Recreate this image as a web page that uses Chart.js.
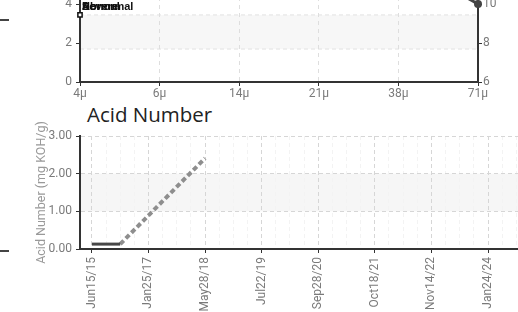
<!DOCTYPE html>
<html>
<head>
<meta charset="utf-8">
<script src="https://cdn.jsdelivr.net/npm/chart.js@4.4.0/dist/chart.umd.min.js"></script>
<style>
  html, body { margin: 0; padding: 0; background: #fff; overflow: hidden; width: 518px; height: 312px; }
  canvas { position: absolute; left: 0; }
  #particleChart { top: -60px; }
  #acidChart { top: 100px; }
  #acidTitle { position: absolute; left: 87px; top: 100px; font: 20.5px "Open Sans", sans-serif; color: #222; }
  .stub { position: absolute; left: 0; width: 9px; height: 1.5px; background: #444; }
</style>
</head>
<body>
<canvas id="particleChart" width="518" height="160"></canvas>
<div id="acidTitle">Acid Number</div>
<canvas id="acidChart" width="518" height="212"></canvas>
<div class="stub" style="top:19px"></div>
<div class="stub" style="top:250px"></div>
<script>
// particle count chart (top, cut off)
const sizeLabels = ['4\u03bc', '6\u03bc', '14\u03bc', '21\u03bc', '38\u03bc', '71\u03bc'];
const countMarker = [3.44, null, null, null, null, null];
const isoCodes = [null, null, null, null, 12.3, 10];
const zoneBand = [1.69, 3.44];
const zoneNames = ['Severe', 'Abnormal', 'Normal'];

// acid number chart
const dateLabels = ['Jun15/15', 'Jan25/17', 'May28/18', 'Jul22/19', 'Sep28/20', 'Oct18/21', 'Nov14/22', 'Jan24/24'];
const acidTicks = [0, 1, 2, 3];
const measuredX = [0, 0.5];
const measuredY = [0.13, 0.13];
const trendX = [0.5, 2];
const trendY = [0.13, 2.41];
const acidBand = [1, 2];

Chart.defaults.font.family = 'Roboto';
Chart.defaults.font.size = 12;
Chart.defaults.color = '#7a7a7a';

const bandPlugin = {
    id: 'band',
    beforeDraw(chart, args, opts) {
        const { ctx, chartArea: a } = chart;
        const scale = chart.scales[opts.axis];
        const y1 = scale.getPixelForValue(opts.range[1]);
        const y2 = scale.getPixelForValue(opts.range[0]);
        ctx.save();
        ctx.fillStyle = opts.fill;
        ctx.fillRect(a.left, y1, a.right - a.left, y2 - y1);
        if (opts.edge) {
            ctx.strokeStyle = opts.edge;
            ctx.lineWidth = 1;
            ctx.setLineDash([4, 3]);
            ctx.beginPath();
            ctx.moveTo(a.left, y1); ctx.lineTo(a.right, y1);
            ctx.moveTo(a.left, y2); ctx.lineTo(a.right, y2);
            ctx.stroke();
        }
        ctx.restore();
    },
    afterDatasetsDraw(chart, args, opts) {
        if (!opts.names) return;
        const { ctx, chartArea: a } = chart;
        const y = chart.scales[opts.axis].getPixelForValue(opts.range[1]);
        ctx.save();
        ctx.font = 'bold 11px "Liberation Sans", Arial, sans-serif';
        ctx.fillStyle = '#111';
        opts.names.forEach(n => ctx.fillText(n, a.left + 2, y - 5));
        ctx.restore();
    }
};

const axisTicks = { tickLength: 4, tickColor: '#333', drawOnChartArea: false };

new Chart(document.getElementById('particleChart'), {
    type: 'line',
    data: {
        labels: sizeLabels,
        datasets: [{
            data: countMarker,
            yAxisID: 'yL',
            showLine: false,
            pointStyle: 'rect',
            pointRadius: 3,
            pointBackgroundColor: '#fff',
            pointBorderColor: '#111',
            pointBorderWidth: 1.5,
        }, {
            data: isoCodes,
            yAxisID: 'yR',
            borderColor: '#444',
            borderWidth: 3,
            pointRadius: 2.5,
            pointBackgroundColor: '#444',
            pointBorderColor: '#444',
        }]
    },
    options: {
        responsive: false,
        animation: false,
        devicePixelRatio: 1,
        layout: { padding: { top: 25, left: 0, right: 0, bottom: 0 } },
        plugins: {
            legend: { display: false },
            tooltip: { enabled: false },
            band: { axis: 'yL', range: zoneBand, fill: '#f7f7f7', edge: '#e2e2e2', names: zoneNames },
        },
        scales: {
            x: {
                offset: false,
                afterFit(scale) { scale.height = 18; },
                ticks: { autoSkip: false, maxRotation: 0, padding: 1 },
                grid: { color: '#dedede', tickLength: 4, tickColor: '#333' },
                border: { color: '#333', width: 2, dash: [4, 4] },
            },
            yL: {
                position: 'left',
                min: 0, max: 6,
                afterFit(scale) { scale.width = 80; },
                ticks: { stepSize: 2, padding: 4 },
                grid: axisTicks,
                border: { color: '#333', width: 2 },
            },
            yR: {
                position: 'right',
                min: 6, max: 12,
                afterFit(scale) { scale.width = 40; },
                ticks: { stepSize: 2, padding: 1 },
                grid: axisTicks,
                border: { color: '#333', width: 2 },
            }
        }
    },
    plugins: [bandPlugin]
});

const isMajor = v => Math.abs(v - Math.round(v)) < 1e-6;

new Chart(document.getElementById('acidChart'), {
    type: 'line',
    data: {
        datasets: [{
            data: measuredX.map((x, i) => ({ x, y: measuredY[i] })),
            borderColor: '#474747',
            borderWidth: 3,
            pointRadius: 0,
        }, {
            data: trendX.map((x, i) => ({ x, y: trendY[i] })),
            borderColor: '#8e8e8e',
            borderWidth: 4,
            borderDash: [5, 3],
            pointRadius: 0,
        }]
    },
    options: {
        responsive: false,
        animation: false,
        devicePixelRatio: 1,
        layout: { padding: { top: 36, left: 30, right: 0, bottom: 0 } },
        plugins: {
            legend: { display: false },
            tooltip: { enabled: false },
            band: { axis: 'y', range: acidBand, fill: '#f6f6f6' },
        },
        scales: {
            x: {
                type: 'linear',
                min: -0.21, max: 7.53,
                afterBuildTicks(scale) {
                    const t = [];
                    dateLabels.forEach((_, i) => {
                        for (let q = 0; q < 4; q++) {
                            if (i + q / 4 <= scale.max) t.push({ value: i + q / 4 });
                        }
                    });
                    scale.ticks = t;
                },
                afterFit(scale) {
                    scale.height = 63;
                    scale.paddingRight = 0;
                },
                ticks: {
                    autoSkip: false, minRotation: 90, maxRotation: 90, padding: 4,
                    callback: v => isMajor(v) ? dateLabels[Math.round(v)] : '',
                },
                grid: {
                    color: c => (c.tick && isMajor(c.tick.value)) ? '#d6d6d6' : '#f3f3f3',
                    tickColor: c => (c.tick && isMajor(c.tick.value)) ? '#333' : 'rgba(0,0,0,0)',
                    tickLength: 4,
                },
                border: { color: '#333', width: 2, dash: [4, 3] },
            },
            y: {
                min: acidTicks[0], max: acidTicks[acidTicks.length - 1],
                afterBuildTicks(scale) { scale.ticks = acidTicks.map(v => ({ value: v })); },
                afterFit(scale) { scale.width = 50; },
                ticks: { padding: 4, callback: v => v.toFixed(2) },
                grid: { color: '#d6d6d6', tickLength: 4, tickColor: '#333' },
                border: { color: '#333', width: 2, dash: [4, 3] },
                title: { display: true, text: 'Acid Number (mg KOH/g)', color: '#999', font: { size: 12.5 }, padding: { top: 4, bottom: 4 } },
            }
        }
    },
    plugins: [bandPlugin]
});
</script>
</body>
</html>
